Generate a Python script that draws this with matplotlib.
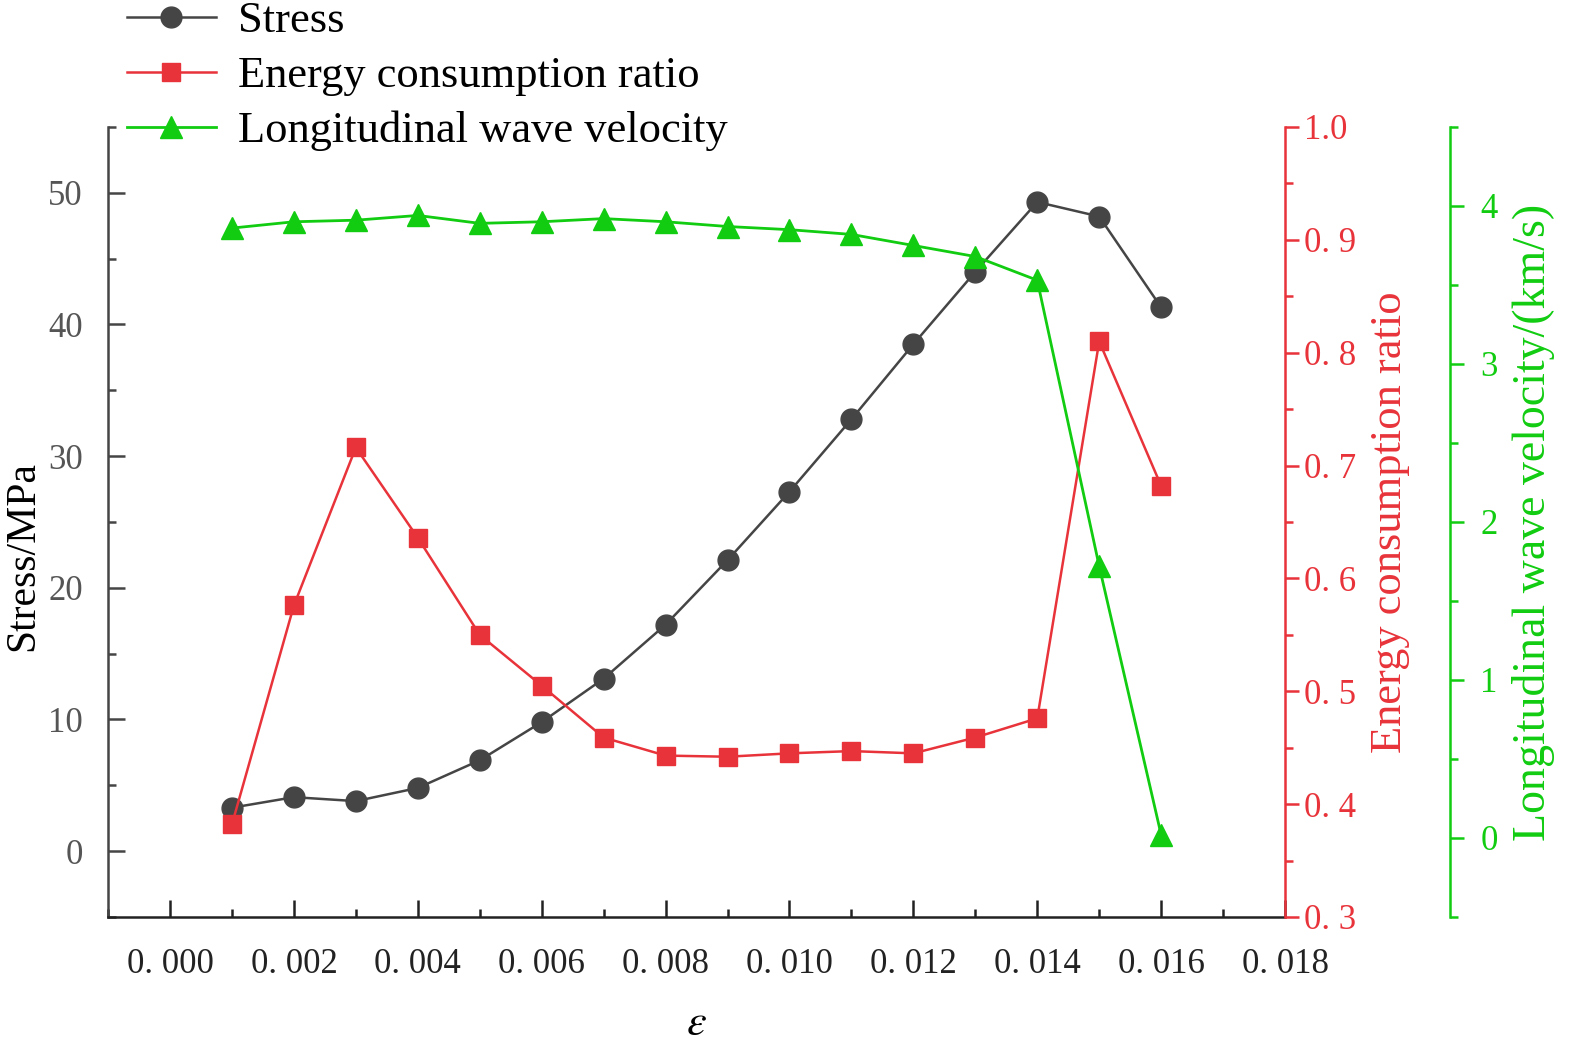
import matplotlib
matplotlib.use("Agg")
import matplotlib.pyplot as plt
from matplotlib.ticker import MultipleLocator, FuncFormatter

plt.rcParams['font.family'] = ['Liberation Serif', 'DejaVu Serif']
plt.rcParams['mathtext.fontset'] = 'stix'

# strain values
strain = [0.001, 0.002, 0.003, 0.004, 0.005, 0.006, 0.007, 0.008,
          0.009, 0.010, 0.011, 0.012, 0.013, 0.014, 0.015, 0.016]
stress = [3.3, 4.1, 3.8, 4.8, 6.9, 9.8, 13.1, 17.2,
          22.1, 27.3, 32.8, 38.5, 44.0, 49.3, 48.2, 41.3]
energy_ratio = [0.382, 0.576, 0.716, 0.636, 0.550, 0.505, 0.459, 0.443,
                0.442, 0.445, 0.447, 0.445, 0.459, 0.476, 0.810, 0.682]
wave_velocity = [3.86, 3.90, 3.91, 3.94, 3.89, 3.90, 3.92, 3.90,
                 3.87, 3.85, 3.82, 3.75, 3.68, 3.53, 1.72, 0.02]

c_stress = '#454545'
c_red = '#e8333a'
c_green = '#11cc11'

fig = plt.figure(figsize=(15.75, 10.45), dpi=100)
ax = fig.add_axes([0.0686, 0.1225, 0.7473, 0.756])
ax2 = ax.twinx()
ax3 = ax.twinx()

l1, = ax.plot(strain, stress, '-o', color=c_stress, lw=1.8, ms=15, label='Stress')
l2, = ax2.plot(strain, energy_ratio, '-s', color=c_red, lw=1.8, ms=13,
               label='Energy consumption ratio')
l3, = ax3.plot(strain, wave_velocity, '-^', color=c_green, lw=2.0, ms=16,
               label='Longitudinal wave velocity')

ax.set_xlim(-0.001, 0.018)
ax.set_ylim(-5, 55)
ax2.set_ylim(0.3, 1.0)
ax3.set_ylim(-0.5, 4.5)

ax.xaxis.set_major_locator(MultipleLocator(0.002))
ax.xaxis.set_minor_locator(MultipleLocator(0.001))
ax.xaxis.set_major_formatter(FuncFormatter(lambda v, p: f"{v:.3f}".replace('.', '. ')))
ax.yaxis.set_major_locator(MultipleLocator(10))
ax.yaxis.set_minor_locator(MultipleLocator(5))
ax2.yaxis.set_major_locator(MultipleLocator(0.1))
ax2.yaxis.set_minor_locator(MultipleLocator(0.05))
ax2.yaxis.set_major_formatter(FuncFormatter(lambda v, p: f"{v:.1f}".replace('.', '. ') if v < 0.95 else f"{v:.1f}"))
ax3.yaxis.set_major_locator(MultipleLocator(1))
ax3.yaxis.set_minor_locator(MultipleLocator(0.5))

for s in ['top', 'right']:
    ax.spines[s].set_visible(False)
for s in ['top', 'left', 'bottom']:
    ax2.spines[s].set_visible(False)
    ax3.spines[s].set_visible(False)
ax.spines['left'].set_color(c_stress)
ax.spines['bottom'].set_color('#222222')
ax.spines['left'].set_linewidth(1.8)
ax.spines['bottom'].set_linewidth(1.8)
ax2.spines['right'].set_color(c_red)
ax2.spines['right'].set_linewidth(1.8)
ax3.spines['right'].set_position(('axes', 1.140))
ax3.spines['right'].set_color(c_green)
ax3.spines['right'].set_linewidth(1.8)

ax.tick_params(axis='x', which='major', direction='in', length=12, width=1.8,
               labelsize=25, pad=22, colors='#222222')
ax.tick_params(axis='x', which='minor', direction='in', length=6, width=1.8, colors='#222222')
ax.tick_params(axis='y', which='major', direction='in', length=12, width=1.8,
               labelsize=25, pad=18, colors=c_stress, labelcolor='#555555')
ax.tick_params(axis='y', which='minor', direction='in', length=6, width=1.8, colors=c_stress)
ax2.tick_params(axis='y', which='major', direction='out', length=10, width=1.8,
                labelsize=25, colors=c_red)
ax2.tick_params(axis='y', which='minor', direction='out', length=6, width=1.8, colors=c_red)
ax3.tick_params(axis='y', which='major', direction='out', length=10, width=1.8,
                labelsize=25, pad=12, colors=c_green)
ax3.tick_params(axis='y', which='minor', direction='out', length=6, width=1.8, colors=c_green)

ax.set_xlabel(r'$\varepsilon$', fontsize=32, labelpad=17)
ax.set_ylabel('Stress/MPa', fontsize=30)
ax.yaxis.set_label_coords(-0.056, 0.457)
ax2.set_ylabel('Energy consumption ratio', fontsize=32, color=c_red, labelpad=10)
ax3.set_ylabel('Longitudinal wave velocity/(km/s)', fontsize=33, color=c_green, labelpad=10)

fig.legend(handles=[l1, l2, l3], loc='upper left', bbox_to_anchor=(0.055, 1.037),
           frameon=False, fontsize=32, handlelength=2.0, labelspacing=0.33,
           handletextpad=0.5)

fig.savefig('out.png', dpi=100)
